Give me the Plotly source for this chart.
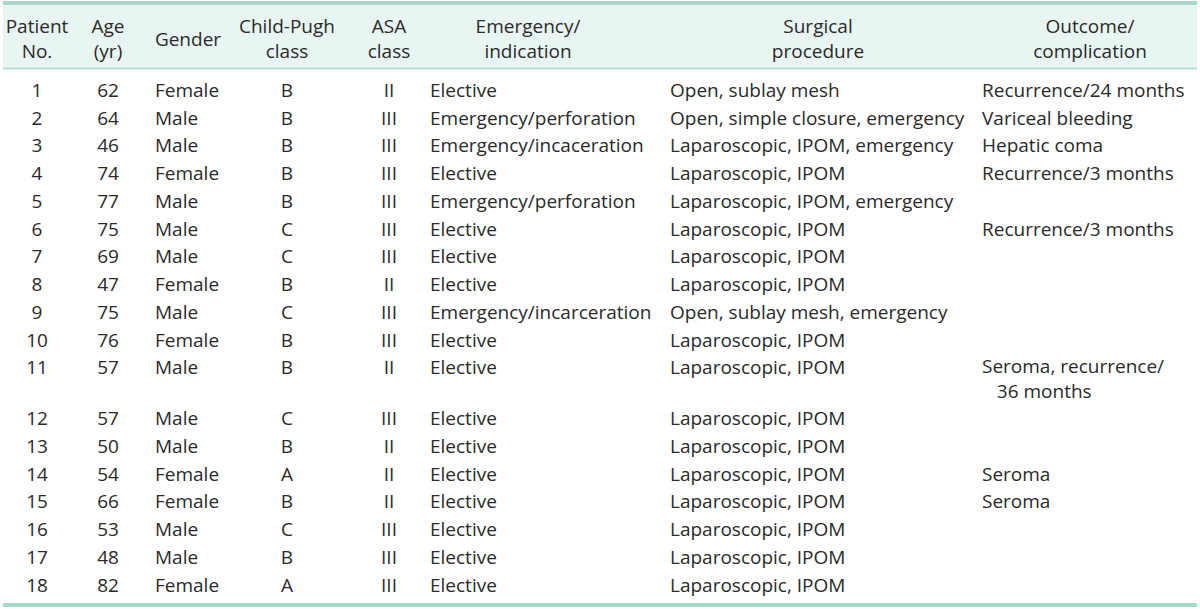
import plotly.graph_objects as go

W, H = 1200, 609

headers = ["Patient<br>No.", "Age<br>(yr)", "Gender", "Child-Pugh<br>class", "ASA<br>class",
           "Emergency/<br>indication", "Surgical<br>procedure", "Outcome/<br>complication"]

patient_no = [str(i) for i in range(1, 19)]
age = [62, 64, 46, 74, 77, 75, 69, 47, 75, 76, 57, 57, 50, 54, 66, 53, 48, 82]
gender = ["Female", "Male", "Male", "Female", "Male", "Male", "Male", "Female", "Male",
          "Female", "Male", "Male", "Male", "Female", "Female", "Male", "Male", "Female"]
child_pugh = ["B", "B", "B", "B", "B", "C", "C", "B", "C", "B", "B", "C", "B", "A", "B", "C", "B", "A"]
asa = ["II", "III", "III", "III", "III", "III", "III", "II", "III", "III", "II", "III", "II", "II",
       "II", "III", "III", "III"]
indication = ["Elective", "Emergency/perforation", "Emergency/incaceration", "Elective",
              "Emergency/perforation", "Elective", "Elective", "Elective",
              "Emergency/incarceration", "Elective", "Elective", "Elective", "Elective",
              "Elective", "Elective", "Elective", "Elective", "Elective"]
procedure = ["Open, sublay mesh", "Open, simple closure, emergency", "Laparoscopic, IPOM, emergency",
             "Laparoscopic, IPOM", "Laparoscopic, IPOM, emergency", "Laparoscopic, IPOM",
             "Laparoscopic, IPOM", "Laparoscopic, IPOM", "Open, sublay mesh, emergency",
             "Laparoscopic, IPOM", "Laparoscopic, IPOM", "Laparoscopic, IPOM", "Laparoscopic, IPOM",
             "Laparoscopic, IPOM", "Laparoscopic, IPOM", "Laparoscopic, IPOM", "Laparoscopic, IPOM",
             "Laparoscopic, IPOM"]
outcome = ["Recurrence/24 months", "Variceal bleeding", "Hepatic coma", "Recurrence/3 months", "",
           "Recurrence/3 months", "", "", "", "",
           "Seroma, recurrence/<br>\u00a0\u00a0\u00a036 months", "", "",
           "Seroma", "Seroma", "", "", ""]

columns = [patient_no, [str(a) for a in age], gender, child_pugh, asa, indication, procedure, outcome]

# layout (pixel positions of the column anchors)
cell_x = [37, 108, 155, 287, 389, 430, 670, 982]
cell_pos = ["middle center", "middle center", "middle right", "middle center", "middle center",
            "middle right", "middle right", "middle right"]
head_x = [37, 108, 188, 287, 389, 528, 818, 1090]

TEAL = "#a6d9cb"
HEADER_BG = "#e8f5f2"
TEXT = "#2a2a2a"
FONT = "Open Sans"
FS = 19

ROW0, PITCH, LINE = 92, 27.75, 23
HEAD_Y = 41

# number of text lines in each row
n_lines = [max(str(c[i]).count("<br>") + 1 for c in columns) for i in range(len(patient_no))]
row_top_line = []
acc = ROW0
for n in n_lines:
    row_top_line.append(acc)
    acc += PITCH + (n - 1) * LINE

fig = go.Figure()

for j, col in enumerate(columns):
    ys = []
    for i, v in enumerate(col):
        k = str(v).count("<br>")
        ys.append(row_top_line[i] + k * LINE / 2)
    fig.add_trace(go.Scatter(
        x=[cell_x[j]] * len(col), y=ys, text=col, mode="text",
        textposition=cell_pos[j], textfont=dict(family=FONT, size=FS, color=TEXT),
        hoverinfo="skip", showlegend=False))

fig.add_trace(go.Scatter(
    x=head_x, y=[HEAD_Y] * len(headers), text=headers, mode="text",
    textposition="middle center", textfont=dict(family=FONT, size=FS, color=TEXT),
    hoverinfo="skip", showlegend=False))

x0, x1 = 3, 1197
shapes = [
    dict(type="rect", xref="x", yref="y", x0=x0, x1=x1, y0=5, y1=68,
         fillcolor=HEADER_BG, line=dict(width=0), layer="below"),
    dict(type="line", xref="x", yref="y", x0=x0, x1=x1, y0=3, y1=3,
         line=dict(color=TEAL, width=4)),
    dict(type="line", xref="x", yref="y", x0=x0, x1=x1, y0=68.5, y1=68.5,
         line=dict(color=TEAL, width=1.5)),
    dict(type="line", xref="x", yref="y", x0=x0, x1=x1, y0=605, y1=605,
         line=dict(color=TEAL, width=4)),
]

fig.update_layout(width=W, height=H, margin=dict(l=0, r=0, t=0, b=0),
                  paper_bgcolor="white", plot_bgcolor="white", shapes=shapes,
                  xaxis=dict(range=[0, W], visible=False, fixedrange=True),
                  yaxis=dict(range=[H, 0], visible=False, fixedrange=True))
fig.write_html("out.html", config=dict(displayModeBar=False),
               post_script="document.body.style.margin='0';document.body.style.overflow='hidden';")
